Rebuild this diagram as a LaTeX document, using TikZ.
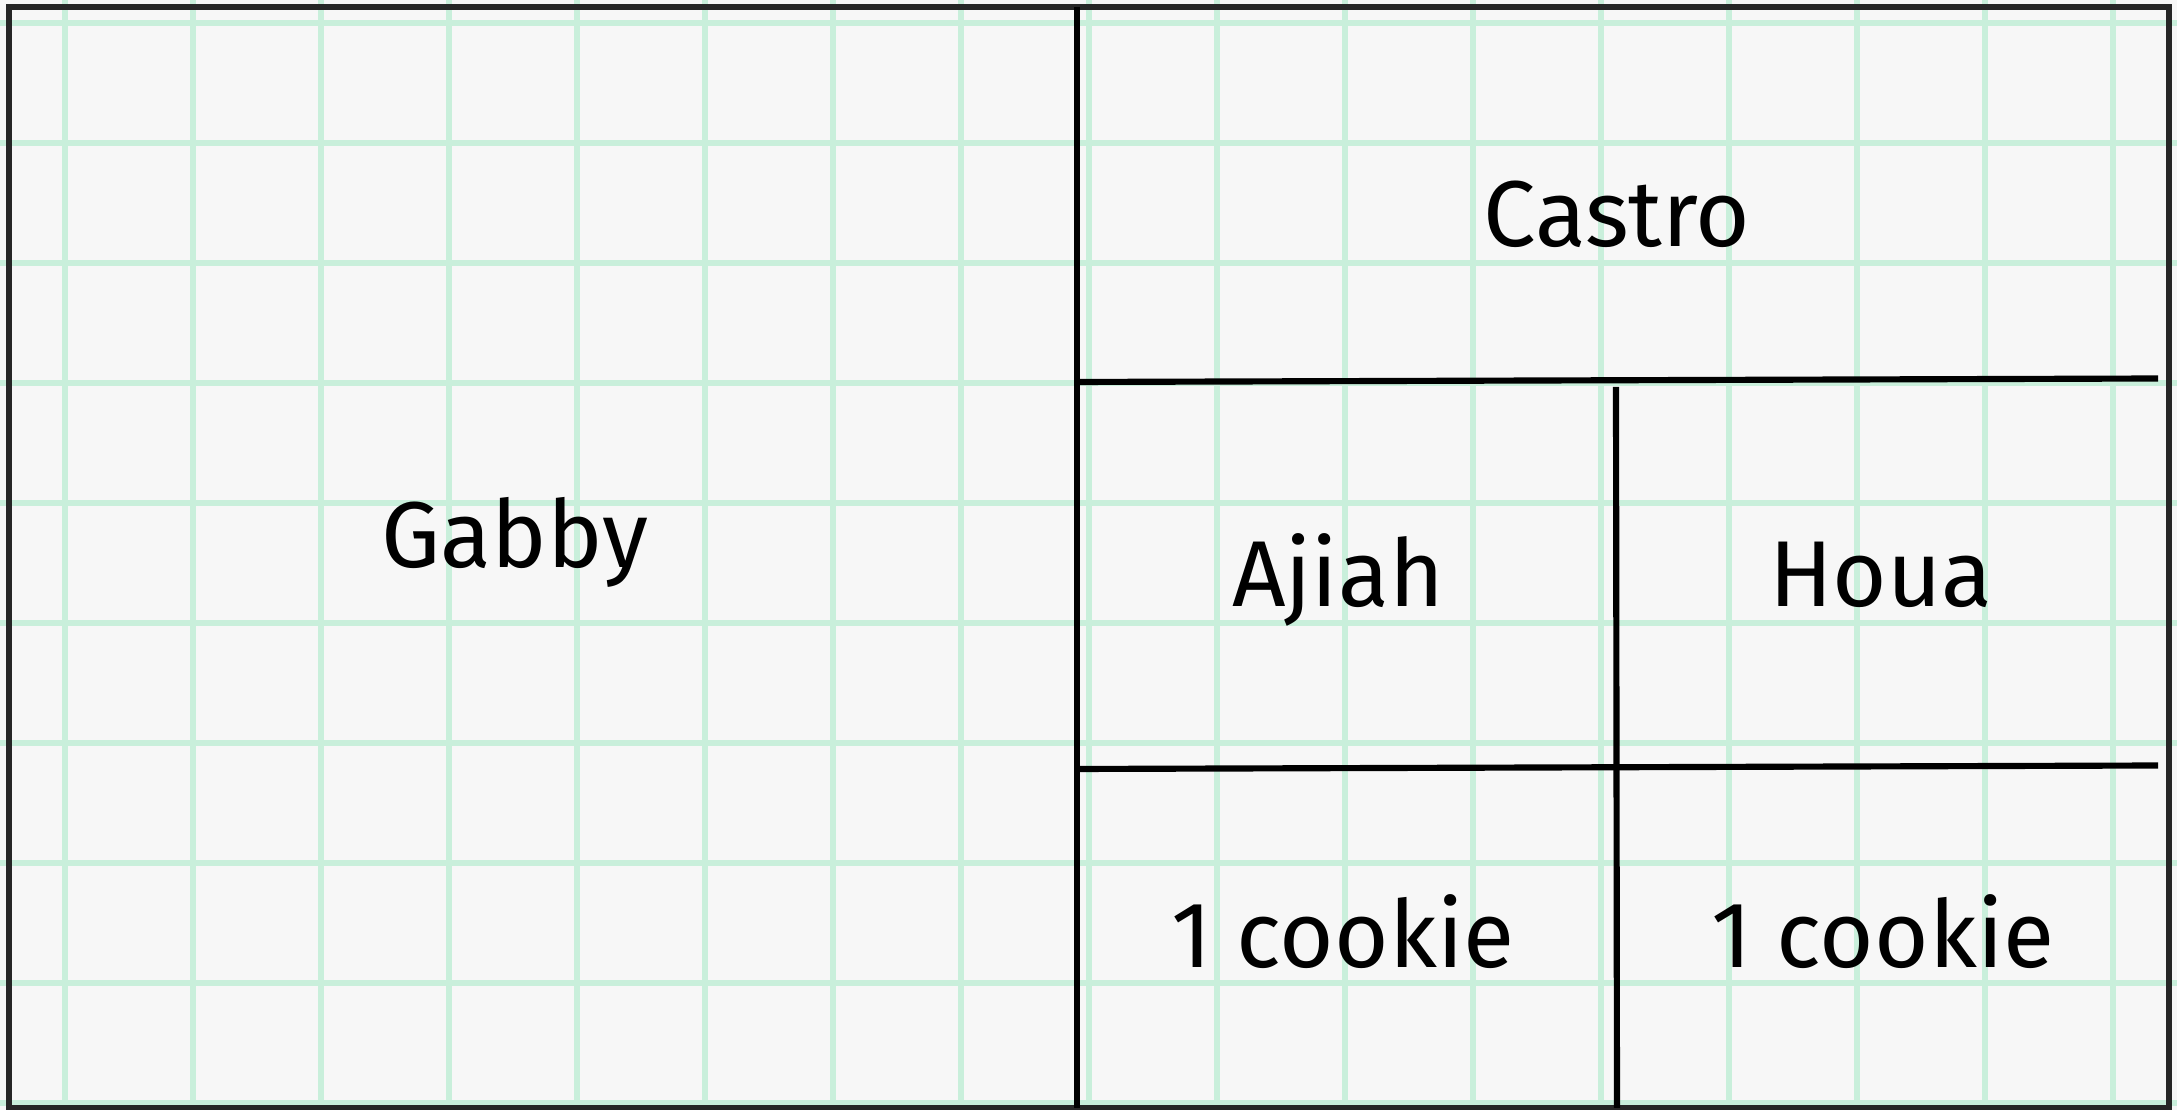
\documentclass[tikz,border=0pt]{standalone}
\usepackage{fontspec}
\setmainfont{Fira Sans}
\definecolor{paper}{HTML}{F7F7F7}
\definecolor{gridmint}{HTML}{C9EFDB}
\definecolor{framegray}{HTML}{262626}
\begin{document}
\begin{tikzpicture}[x=0.01cm,y=-0.01cm,font=\fontsize{26.6}{31}\selectfont,
  gridline/.style={draw=gridmint,line width=1.55pt},
  divider/.style={draw=black,line width=1.75pt},
  sharelbl/.style={anchor=base,inner sep=0pt}]
  \useasboundingbox (0,0) rectangle (2177,1110);
  \fill[paper] (0,0) rectangle (2177,1110);
  % squared paper behind the model
  \foreach \gx in {65,193,...,2113}
    \draw[gridline] (\gx,0) -- (\gx,1110);
  \foreach \gy in {23,143,...,1103}
    \draw[gridline] (0,\gy) -- (2177,\gy);
  \draw[draw=framegray,line width=1.7pt] (9,7) rectangle (2169,1108);
  % Gabby gets half; the other half is split again and again
  \draw[divider] (1077,7) -- (1077,1108);
  \draw[divider] (1077,382) -- (2158,378.5);
  \draw[divider] (1077,769) -- (2158,765.5);
  \draw[divider] (1616,387) -- (1617,1108);
  \node[sharelbl] (gabby) at (515,568) {Gabby};
  \node[sharelbl] (castro) at (1617,247) {Castro};
  \node[sharelbl] (ajiah) at (1338,607) {Ajiah};
  \node[sharelbl] (houa) at (1881,607) {Houa};
  \node[sharelbl] (cookieA) at (1343,968) {1 cookie};
  \node[sharelbl] (cookieH) at (1883,968) {1 cookie};
\end{tikzpicture}
\end{document}
